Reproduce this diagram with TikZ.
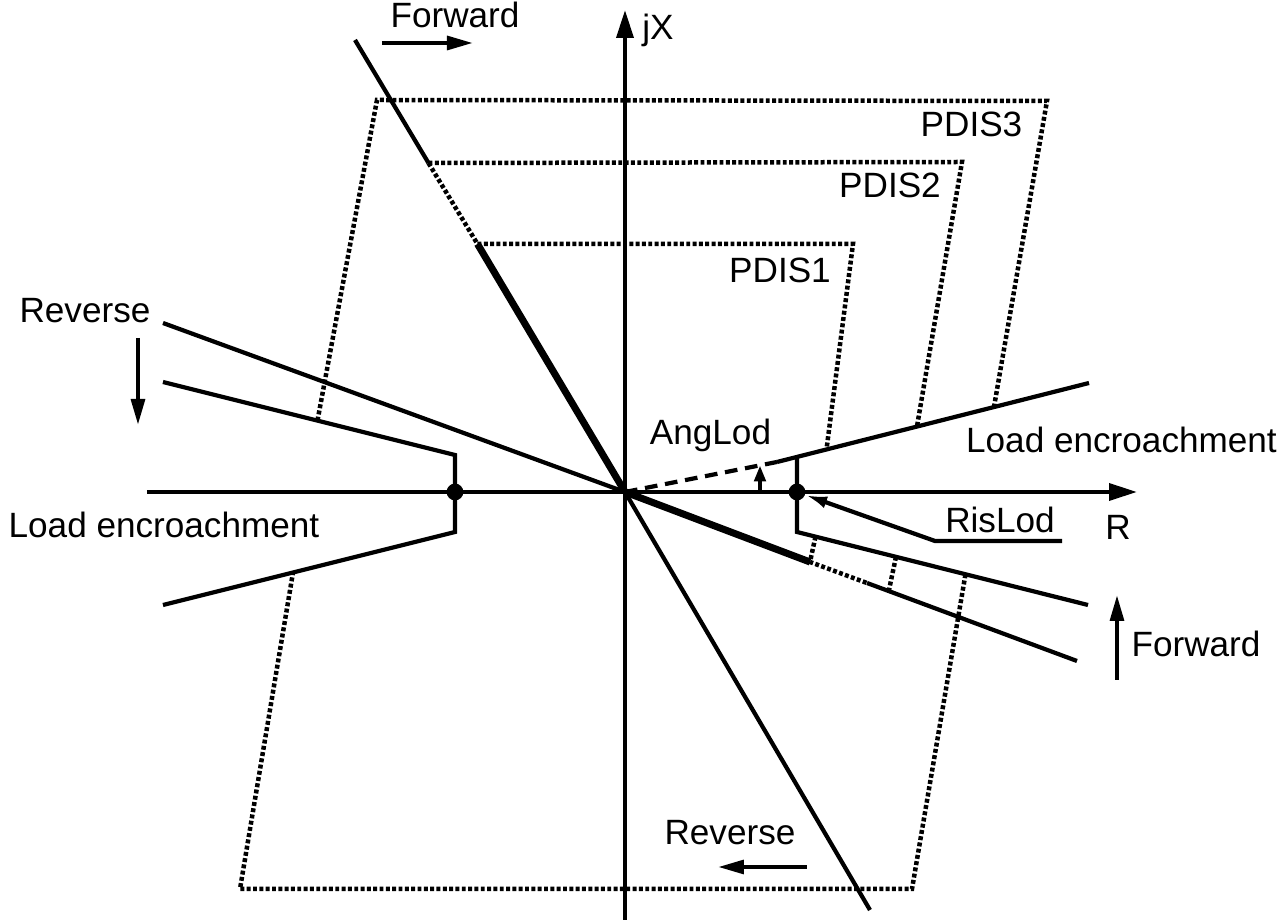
\documentclass[tikz,border=0pt]{standalone}
\usepackage{fontspec}
\setmainfont{Liberation Sans}
\usetikzlibrary{arrows.meta}

\begin{document}
\begin{tikzpicture}[scale = 0.25,
  every node/.style = {inner sep = 0pt, font = \fontsize{25}{30}\selectfont},
  ln/.style = {line width = 3pt},
  heavy/.style = {line width = 5pt},
  zone/.style = {line width = 3.2pt, dash pattern = on 2.8pt off 1.7pt},
  dir/.style = {line width = 3pt, -{Triangle[length = 0.65cm, width = 0.34cm]}},
  dot/.style = {circle, fill, minimum size = 0.42cm}]
  \useasboundingbox (-62.5, -43.1) rectangle (66.2, 49.2);

  \coordinate (O) at (0, 0);
  \coordinate (Rl) at (-47.8, 0);
  \coordinate (Rr) at (51.2, 0);
  \coordinate (Xb) at (0, -42.8);
  \coordinate (Xt) at (0, 48.2);

  \coordinate (ST1) at (-27, 45.2);
  \coordinate (ST2) at (-19.65, 32.9);
  \coordinate (ST3) at (-14.75, 24.8);
  \coordinate (ST4) at (24.5, -41.8);

  \coordinate (RV1) at (-46.2, 16.9);
  \coordinate (RV2) at (18.5, -7.0);
  \coordinate (RV3) at (24.2, -9.1);
  \coordinate (RV4) at (45.2, -16.9);

  \coordinate (LRd) at (15.2, 3.0);
  \coordinate (LR1) at (17.2, 3.5);
  \coordinate (LR2) at (46.4, 10.9);
  \coordinate (LR3) at (17.2, -4.0);
  \coordinate (LR4) at (46.3, -11.3);

  \coordinate (LL1) at (-17.0, 3.7);
  \coordinate (LL2) at (-46.2, 11.0);
  \coordinate (LL3) at (-17.0, -4.0);
  \coordinate (LL4) at (-46.2, -11.3);

  % zones
  \draw[zone] (ST3) -- (22.8, 24.8) -- (20.15, 4.25);
  \draw[zone] (19.05, -4.46) -- (RV2) -- (RV3);
  \draw[zone] (ST2) -- (33.7, 33.0) -- (29.2, 6.55);
  \draw[zone] (27.1, -6.48) -- (26.4, -9.8);
  \draw[zone] (-30.75, 7.14) -- (-24.8, 39.2) -- (42.2, 39.1) -- (36.9, 8.5);
  \draw[zone] (34.05, -8.23) -- (28.7, -39.7) -- (-38.5, -39.7) -- (-33.2, -8.05);
  \draw[zone] (ST2) -- (ST3);

  % axes
  \draw[ln, -{Triangle[length = 0.7cm, width = 0.42cm]}] (Rl) -- (Rr);
  \draw[ln, -{Triangle[length = 0.7cm, width = 0.42cm]}] (Xb) -- (Xt);

  % directional lines
  \draw[ln] (ST1) -- (ST2);
  \draw[heavy] (ST3) -- (O);
  \draw[ln] (O) -- (ST4);
  \draw[ln] (RV1) -- (O);
  \draw[heavy] (O) -- (RV2);
  \draw[ln] (RV3) -- (RV4);

  % load encroachment
  \draw[ln, dash pattern = on 9pt off 5.5pt] (O) -- (LRd);
  \draw[ln] (LRd) -- (LR2);
  \draw[ln] (LR1) -- (LR3) -- (LR4);
  \draw[ln] (LL2) -- (LL1) -- (LL3) -- (LL4);

  \node[dot] (dotL) at (-17.0, 0) {};
  \node[dot] (dotR) at (17.2, 0) {};

  \draw[ln, -{Triangle[length = 0.4cm, width = 0.28cm]}] (13.5, 0) -- (13.5, 2.66);

  \node[anchor = base] (rislod) at (37.5, -4.1) {RisLod};
  \coordinate (risR) at (43.7, -4.9);
  \coordinate (risL) at (31.0, -4.9);
  \draw[ln, -{Latex[length = 0.55cm, width = 0.3cm]}] (risR) -- (risL) -- (dotR);

  % labels
  \node[anchor = base west] (jx) at (1.7, 45.2) {jX};
  \node[anchor = base] (r) at (49.3, -4.8) {R};
  \node[anchor = base] (pdis3) at (34.65, 35.5) {PDIS3};
  \node[anchor = base] (pdis2) at (26.5, 29.4) {PDIS2};
  \node[anchor = base] (pdis1) at (15.5, 20.9) {PDIS1};
  \node[anchor = base] (anglod) at (8.55, 4.7) {AngLod};
  \node[anchor = base] (loadR) at (49.65, 3.9) {Load encroachment};
  \node[anchor = base] (loadL) at (-46.1, -4.6) {Load encroachment};

  \node[anchor = base] (fwdT) at (-17.0, 46.4) {Forward};
  \coordinate (fwdT1) at (-24.3, 44.9);
  \coordinate (fwdT2) at (-15.2, 44.9);
  \draw[dir] (fwdT1) -- (fwdT2);

  \node[anchor = base] (revL) at (-54.0, 16.9) {Reverse};
  \coordinate (revL1) at (-48.7, 15.4);
  \coordinate (revL2) at (-48.7, 6.7);
  \draw[dir] (revL1) -- (revL2);

  \node[anchor = base] (fwdR) at (57.1, -16.5) {Forward};
  \coordinate (fwdR1) at (49.2, -18.8);
  \coordinate (fwdR2) at (49.2, -10.3);
  \draw[dir] (fwdR1) -- (fwdR2);

  \node[anchor = base] (revB) at (10.5, -35.3) {Reverse};
  \coordinate (revB1) at (18.2, -37.5);
  \coordinate (revB2) at (9.3, -37.5);
  \draw[dir] (revB1) -- (revB2);
\end{tikzpicture}
\end{document}
